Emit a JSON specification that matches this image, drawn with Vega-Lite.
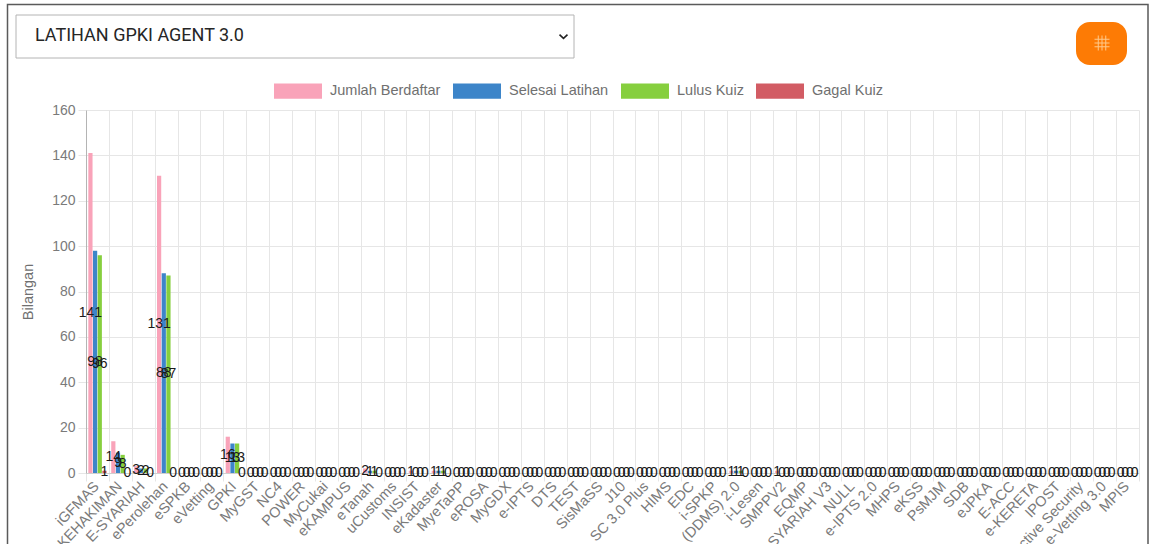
{
"$schema":"https://vega.github.io/schema/vega-lite/v6.json",
"width":1053,"height":363,
"autosize":"none",
"padding":{"left":86,"top":110,"right":21,"bottom":71},
"background":"#ffffff",
"config":{"view":{"stroke":null},"font":"Liberation Sans"},
"datasets":{"latihan":[
{"sistem":"iGFMAS","siri":"Jumlah Berdaftar","n":141},{"sistem":"iGFMAS","siri":"Selesai Latihan","n":98},{"sistem":"iGFMAS","siri":"Lulus Kuiz","n":96},{"sistem":"iGFMAS","siri":"Gagal Kuiz","n":1},
{"sistem":"e-KEHAKIMAN","siri":"Jumlah Berdaftar","n":14},{"sistem":"e-KEHAKIMAN","siri":"Selesai Latihan","n":9},{"sistem":"e-KEHAKIMAN","siri":"Lulus Kuiz","n":8},{"sistem":"e-KEHAKIMAN","siri":"Gagal Kuiz","n":0},
{"sistem":"E-SYARIAH","siri":"Jumlah Berdaftar","n":3},{"sistem":"E-SYARIAH","siri":"Selesai Latihan","n":2},{"sistem":"E-SYARIAH","siri":"Lulus Kuiz","n":2},{"sistem":"E-SYARIAH","siri":"Gagal Kuiz","n":0},
{"sistem":"ePerolehan","siri":"Jumlah Berdaftar","n":131},{"sistem":"ePerolehan","siri":"Selesai Latihan","n":88},{"sistem":"ePerolehan","siri":"Lulus Kuiz","n":87},{"sistem":"ePerolehan","siri":"Gagal Kuiz","n":0},
{"sistem":"eSPKB","siri":"Jumlah Berdaftar","n":0},{"sistem":"eSPKB","siri":"Selesai Latihan","n":0},{"sistem":"eSPKB","siri":"Lulus Kuiz","n":0},{"sistem":"eSPKB","siri":"Gagal Kuiz","n":0},
{"sistem":"eVetting","siri":"Jumlah Berdaftar","n":0},{"sistem":"eVetting","siri":"Selesai Latihan","n":0},{"sistem":"eVetting","siri":"Lulus Kuiz","n":0},{"sistem":"eVetting","siri":"Gagal Kuiz","n":0},
{"sistem":"GPKI","siri":"Jumlah Berdaftar","n":16},{"sistem":"GPKI","siri":"Selesai Latihan","n":13},{"sistem":"GPKI","siri":"Lulus Kuiz","n":13},{"sistem":"GPKI","siri":"Gagal Kuiz","n":0},
{"sistem":"MyGST","siri":"Jumlah Berdaftar","n":0},{"sistem":"MyGST","siri":"Selesai Latihan","n":0},{"sistem":"MyGST","siri":"Lulus Kuiz","n":0},{"sistem":"MyGST","siri":"Gagal Kuiz","n":0},
{"sistem":"NC4","siri":"Jumlah Berdaftar","n":0},{"sistem":"NC4","siri":"Selesai Latihan","n":0},{"sistem":"NC4","siri":"Lulus Kuiz","n":0},{"sistem":"NC4","siri":"Gagal Kuiz","n":0},
{"sistem":"POWER","siri":"Jumlah Berdaftar","n":0},{"sistem":"POWER","siri":"Selesai Latihan","n":0},{"sistem":"POWER","siri":"Lulus Kuiz","n":0},{"sistem":"POWER","siri":"Gagal Kuiz","n":0},
{"sistem":"MyCukai","siri":"Jumlah Berdaftar","n":0},{"sistem":"MyCukai","siri":"Selesai Latihan","n":0},{"sistem":"MyCukai","siri":"Lulus Kuiz","n":0},{"sistem":"MyCukai","siri":"Gagal Kuiz","n":0},
{"sistem":"eKAMPUS","siri":"Jumlah Berdaftar","n":0},{"sistem":"eKAMPUS","siri":"Selesai Latihan","n":0},{"sistem":"eKAMPUS","siri":"Lulus Kuiz","n":0},{"sistem":"eKAMPUS","siri":"Gagal Kuiz","n":0},
{"sistem":"eTanah","siri":"Jumlah Berdaftar","n":2},{"sistem":"eTanah","siri":"Selesai Latihan","n":1},{"sistem":"eTanah","siri":"Lulus Kuiz","n":1},{"sistem":"eTanah","siri":"Gagal Kuiz","n":0},
{"sistem":"uCustoms","siri":"Jumlah Berdaftar","n":0},{"sistem":"uCustoms","siri":"Selesai Latihan","n":0},{"sistem":"uCustoms","siri":"Lulus Kuiz","n":0},{"sistem":"uCustoms","siri":"Gagal Kuiz","n":0},
{"sistem":"INSIST","siri":"Jumlah Berdaftar","n":1},{"sistem":"INSIST","siri":"Selesai Latihan","n":0},{"sistem":"INSIST","siri":"Lulus Kuiz","n":0},{"sistem":"INSIST","siri":"Gagal Kuiz","n":0},
{"sistem":"eKadaster","siri":"Jumlah Berdaftar","n":1},{"sistem":"eKadaster","siri":"Selesai Latihan","n":1},{"sistem":"eKadaster","siri":"Lulus Kuiz","n":1},{"sistem":"eKadaster","siri":"Gagal Kuiz","n":0},
{"sistem":"MyeTaPP","siri":"Jumlah Berdaftar","n":0},{"sistem":"MyeTaPP","siri":"Selesai Latihan","n":0},{"sistem":"MyeTaPP","siri":"Lulus Kuiz","n":0},{"sistem":"MyeTaPP","siri":"Gagal Kuiz","n":0},
{"sistem":"eROSA","siri":"Jumlah Berdaftar","n":0},{"sistem":"eROSA","siri":"Selesai Latihan","n":0},{"sistem":"eROSA","siri":"Lulus Kuiz","n":0},{"sistem":"eROSA","siri":"Gagal Kuiz","n":0},
{"sistem":"MyGDX","siri":"Jumlah Berdaftar","n":0},{"sistem":"MyGDX","siri":"Selesai Latihan","n":0},{"sistem":"MyGDX","siri":"Lulus Kuiz","n":0},{"sistem":"MyGDX","siri":"Gagal Kuiz","n":0},
{"sistem":"e-IPTS","siri":"Jumlah Berdaftar","n":0},{"sistem":"e-IPTS","siri":"Selesai Latihan","n":0},{"sistem":"e-IPTS","siri":"Lulus Kuiz","n":0},{"sistem":"e-IPTS","siri":"Gagal Kuiz","n":0},
{"sistem":"DTS","siri":"Jumlah Berdaftar","n":0},{"sistem":"DTS","siri":"Selesai Latihan","n":0},{"sistem":"DTS","siri":"Lulus Kuiz","n":0},{"sistem":"DTS","siri":"Gagal Kuiz","n":0},
{"sistem":"TEST","siri":"Jumlah Berdaftar","n":0},{"sistem":"TEST","siri":"Selesai Latihan","n":0},{"sistem":"TEST","siri":"Lulus Kuiz","n":0},{"sistem":"TEST","siri":"Gagal Kuiz","n":0},
{"sistem":"SisMaSS","siri":"Jumlah Berdaftar","n":0},{"sistem":"SisMaSS","siri":"Selesai Latihan","n":0},{"sistem":"SisMaSS","siri":"Lulus Kuiz","n":0},{"sistem":"SisMaSS","siri":"Gagal Kuiz","n":0},
{"sistem":"J10","siri":"Jumlah Berdaftar","n":0},{"sistem":"J10","siri":"Selesai Latihan","n":0},{"sistem":"J10","siri":"Lulus Kuiz","n":0},{"sistem":"J10","siri":"Gagal Kuiz","n":0},
{"sistem":"SC 3.0 Plus","siri":"Jumlah Berdaftar","n":0},{"sistem":"SC 3.0 Plus","siri":"Selesai Latihan","n":0},{"sistem":"SC 3.0 Plus","siri":"Lulus Kuiz","n":0},{"sistem":"SC 3.0 Plus","siri":"Gagal Kuiz","n":0},
{"sistem":"HIMS","siri":"Jumlah Berdaftar","n":0},{"sistem":"HIMS","siri":"Selesai Latihan","n":0},{"sistem":"HIMS","siri":"Lulus Kuiz","n":0},{"sistem":"HIMS","siri":"Gagal Kuiz","n":0},
{"sistem":"EDC","siri":"Jumlah Berdaftar","n":0},{"sistem":"EDC","siri":"Selesai Latihan","n":0},{"sistem":"EDC","siri":"Lulus Kuiz","n":0},{"sistem":"EDC","siri":"Gagal Kuiz","n":0},
{"sistem":"i-SPKP","siri":"Jumlah Berdaftar","n":0},{"sistem":"i-SPKP","siri":"Selesai Latihan","n":0},{"sistem":"i-SPKP","siri":"Lulus Kuiz","n":0},{"sistem":"i-SPKP","siri":"Gagal Kuiz","n":0},
{"sistem":"(DDMS) 2.0","siri":"Jumlah Berdaftar","n":1},{"sistem":"(DDMS) 2.0","siri":"Selesai Latihan","n":1},{"sistem":"(DDMS) 2.0","siri":"Lulus Kuiz","n":1},{"sistem":"(DDMS) 2.0","siri":"Gagal Kuiz","n":0},
{"sistem":"i-Lesen","siri":"Jumlah Berdaftar","n":0},{"sistem":"i-Lesen","siri":"Selesai Latihan","n":0},{"sistem":"i-Lesen","siri":"Lulus Kuiz","n":0},{"sistem":"i-Lesen","siri":"Gagal Kuiz","n":0},
{"sistem":"SMPPV2","siri":"Jumlah Berdaftar","n":1},{"sistem":"SMPPV2","siri":"Selesai Latihan","n":0},{"sistem":"SMPPV2","siri":"Lulus Kuiz","n":0},{"sistem":"SMPPV2","siri":"Gagal Kuiz","n":0},
{"sistem":"EQMP","siri":"Jumlah Berdaftar","n":0},{"sistem":"EQMP","siri":"Selesai Latihan","n":0},{"sistem":"EQMP","siri":"Lulus Kuiz","n":0},{"sistem":"EQMP","siri":"Gagal Kuiz","n":0},
{"sistem":"E-SYARIAH V3","siri":"Jumlah Berdaftar","n":0},{"sistem":"E-SYARIAH V3","siri":"Selesai Latihan","n":0},{"sistem":"E-SYARIAH V3","siri":"Lulus Kuiz","n":0},{"sistem":"E-SYARIAH V3","siri":"Gagal Kuiz","n":0},
{"sistem":"NULL","siri":"Jumlah Berdaftar","n":0},{"sistem":"NULL","siri":"Selesai Latihan","n":0},{"sistem":"NULL","siri":"Lulus Kuiz","n":0},{"sistem":"NULL","siri":"Gagal Kuiz","n":0},
{"sistem":"e-IPTS 2.0","siri":"Jumlah Berdaftar","n":0},{"sistem":"e-IPTS 2.0","siri":"Selesai Latihan","n":0},{"sistem":"e-IPTS 2.0","siri":"Lulus Kuiz","n":0},{"sistem":"e-IPTS 2.0","siri":"Gagal Kuiz","n":0},
{"sistem":"MHPS","siri":"Jumlah Berdaftar","n":0},{"sistem":"MHPS","siri":"Selesai Latihan","n":0},{"sistem":"MHPS","siri":"Lulus Kuiz","n":0},{"sistem":"MHPS","siri":"Gagal Kuiz","n":0},
{"sistem":"eKSS","siri":"Jumlah Berdaftar","n":0},{"sistem":"eKSS","siri":"Selesai Latihan","n":0},{"sistem":"eKSS","siri":"Lulus Kuiz","n":0},{"sistem":"eKSS","siri":"Gagal Kuiz","n":0},
{"sistem":"PsMJM","siri":"Jumlah Berdaftar","n":0},{"sistem":"PsMJM","siri":"Selesai Latihan","n":0},{"sistem":"PsMJM","siri":"Lulus Kuiz","n":0},{"sistem":"PsMJM","siri":"Gagal Kuiz","n":0},
{"sistem":"SDB","siri":"Jumlah Berdaftar","n":0},{"sistem":"SDB","siri":"Selesai Latihan","n":0},{"sistem":"SDB","siri":"Lulus Kuiz","n":0},{"sistem":"SDB","siri":"Gagal Kuiz","n":0},
{"sistem":"eJPKA","siri":"Jumlah Berdaftar","n":0},{"sistem":"eJPKA","siri":"Selesai Latihan","n":0},{"sistem":"eJPKA","siri":"Lulus Kuiz","n":0},{"sistem":"eJPKA","siri":"Gagal Kuiz","n":0},
{"sistem":"E-ACC","siri":"Jumlah Berdaftar","n":0},{"sistem":"E-ACC","siri":"Selesai Latihan","n":0},{"sistem":"E-ACC","siri":"Lulus Kuiz","n":0},{"sistem":"E-ACC","siri":"Gagal Kuiz","n":0},
{"sistem":"e-KERETA","siri":"Jumlah Berdaftar","n":0},{"sistem":"e-KERETA","siri":"Selesai Latihan","n":0},{"sistem":"e-KERETA","siri":"Lulus Kuiz","n":0},{"sistem":"e-KERETA","siri":"Gagal Kuiz","n":0},
{"sistem":"IPOST","siri":"Jumlah Berdaftar","n":0},{"sistem":"IPOST","siri":"Selesai Latihan","n":0},{"sistem":"IPOST","siri":"Lulus Kuiz","n":0},{"sistem":"IPOST","siri":"Gagal Kuiz","n":0},
{"sistem":"Active Security","siri":"Jumlah Berdaftar","n":0},{"sistem":"Active Security","siri":"Selesai Latihan","n":0},{"sistem":"Active Security","siri":"Lulus Kuiz","n":0},{"sistem":"Active Security","siri":"Gagal Kuiz","n":0},
{"sistem":"e-Vetting 3.0","siri":"Jumlah Berdaftar","n":0},{"sistem":"e-Vetting 3.0","siri":"Selesai Latihan","n":0},{"sistem":"e-Vetting 3.0","siri":"Lulus Kuiz","n":0},{"sistem":"e-Vetting 3.0","siri":"Gagal Kuiz","n":0},
{"sistem":"MPIS","siri":"Jumlah Berdaftar","n":0},{"sistem":"MPIS","siri":"Selesai Latihan","n":0},{"sistem":"MPIS","siri":"Lulus Kuiz","n":0},{"sistem":"MPIS","siri":"Gagal Kuiz","n":0}
]},
"resolve":{"scale":{"x":"independent","y":"independent"}},
"layer":[
{"data":{"values":[{"unsur":"bingkai"}]},
 "mark":{"type":"rect","fill":null,"stroke":"#5a5a5a","strokeWidth":1.5},
 "encoding":{
  "x":{"datum":7.5,"type":"quantitative","scale":{"domain":[0,1160],"range":[-86,1074],"nice":false,"zero":false},"axis":null},
  "x2":{"datum":1148},
  "y":{"datum":4.5,"type":"quantitative","scale":{"domain":[0,544],"range":[-110,434],"nice":false,"zero":false},"axis":null},
  "y2":{"datum":600}}},
{"data":{"values":[{"unsur":"pilihan"}]},
 "mark":{"type":"rect","fill":"#ffffff","stroke":"#b4b4b4","strokeWidth":1},
 "encoding":{
  "x":{"datum":16,"type":"quantitative","scale":{"domain":[0,1160],"range":[-86,1074],"nice":false,"zero":false},"axis":null},
  "x2":{"datum":574},
  "y":{"datum":15,"type":"quantitative","scale":{"domain":[0,544],"range":[-110,434],"nice":false,"zero":false},"axis":null},
  "y2":{"datum":58}}},
{"data":{"values":[{"teks":"LATIHAN GPKI AGENT 3.0"}]},
 "mark":{"type":"text","align":"left","baseline":"middle","fontSize":18,"color":"#262626","font":"Roboto"},
 "encoding":{
  "x":{"datum":35,"type":"quantitative","scale":{"domain":[0,1160],"range":[-86,1074],"nice":false,"zero":false},"axis":null},
  "y":{"datum":36,"type":"quantitative","scale":{"domain":[0,544],"range":[-110,434],"nice":false,"zero":false},"axis":null},
  "text":{"field":"teks"}}},
{"data":{"values":[{"unsur":"anak panah"}]},
 "mark":{"type":"point","shape":"M-1,-0.45L0,0.45L1,-0.45","filled":false,"stroke":"#222222","strokeWidth":1.6,"size":64,"opacity":1},
 "encoding":{
  "x":{"datum":563.5,"type":"quantitative","scale":{"domain":[0,1160],"range":[-86,1074],"nice":false,"zero":false},"axis":null},
  "y":{"datum":36.5,"type":"quantitative","scale":{"domain":[0,544],"range":[-110,434],"nice":false,"zero":false},"axis":null}}},
{"data":{"values":[{"unsur":"butang"}]},
 "mark":{"type":"rect","fill":"#fd7b05","cornerRadius":14},
 "encoding":{
  "x":{"datum":1076,"type":"quantitative","scale":{"domain":[0,1160],"range":[-86,1074],"nice":false,"zero":false},"axis":null},
  "x2":{"datum":1127},
  "y":{"datum":22,"type":"quantitative","scale":{"domain":[0,544],"range":[-110,434],"nice":false,"zero":false},"axis":null},
  "y2":{"datum":65}}},
{"data":{"values":[{"unsur":"ikon jadual"}]},
 "mark":{"type":"point","shape":"M-0.5,-1V1M0,-1V1M0.5,-1V1M-1,-0.5H1M-1,0H1M-1,0.5H1","filled":false,"stroke":"#ffc98a","strokeWidth":1,"size":225,"opacity":1},
 "encoding":{
  "x":{"datum":1102,"type":"quantitative","scale":{"domain":[0,1160],"range":[-86,1074],"nice":false,"zero":false},"axis":null},
  "y":{"datum":43,"type":"quantitative","scale":{"domain":[0,544],"range":[-110,434],"nice":false,"zero":false},"axis":null}}},
{"data":{"name":"latihan"},
 "mark":{"type":"bar"},
 "encoding":{
  "x":{"field":"sistem","type":"nominal","sort":null,
   "scale":{"paddingInner":0,"paddingOuter":0},
   "axis":{"title":null,"labelAngle":-46,"labelAlign":"right","labelBaseline":"middle","labelFontSize":14.5,"labelColor":"#7a7a7a","labelPadding":3,"labelOffset":-1,"labelLimit":300,"labelOverlap":false,"tickBand":"extent","grid":true,"gridColor":"#e6e6e6","ticks":true,"tickColor":"#e6e6e6","tickSize":8,"domainColor":"#d0d0d0"}},
  "xOffset":{"field":"siri","type":"nominal","sort":["Jumlah Berdaftar","Selesai Latihan","Lulus Kuiz","Gagal Kuiz"],"scale":{"paddingInner":0.1,"paddingOuter":0.5}},
  "y":{"field":"n","type":"quantitative","scale":{"domain":[0,160],"nice":false},
   "axis":{"title":"Bilangan","titleFontSize":14.5,"titleFontWeight":"normal","titleColor":"#707070","titlePadding":16,"values":[0,20,40,60,80,100,120,140,160],"labelFontSize":14,"labelColor":"#7a7a7a","labelPadding":3,"grid":true,"gridColor":"#e6e6e6","tickColor":"#e6e6e6","tickSize":8,"domainColor":"#b4b4b4"}},
  "color":{"field":"siri","type":"nominal",
   "scale":{"domain":["Jumlah Berdaftar","Selesai Latihan","Lulus Kuiz","Gagal Kuiz"],"range":["#f9a3b9","#3d85c9","#86cf3e","#d25c64"]},
   "legend":{"title":null,"orient":"none","direction":"horizontal","columns":4,"legendX":188,"legendY":-43,"symbolType":"M-1,-0.32H1V0.32H-1Z","symbolSize":2304,"symbolStrokeWidth":0,"labelFontSize":14.5,"labelColor":"#707070","labelOffset":8,"columnPadding":12,"labelLimit":200}}}},
{"data":{"name":"latihan"},
 "mark":{"type":"text","fontSize":14,"color":"#1a1a1a","baseline":"middle","align":"center"},
 "encoding":{
  "x":{"field":"sistem","type":"nominal","sort":null,"scale":{"paddingInner":0,"paddingOuter":0},"axis":null},
  "xOffset":{"field":"siri","type":"nominal","sort":["Jumlah Berdaftar","Selesai Latihan","Lulus Kuiz","Gagal Kuiz"],"scale":{"paddingInner":0.1,"paddingOuter":0.5}},
  "y":{"field":"n","type":"quantitative","scale":{"domain":[0,320],"nice":false},"axis":null},
  "text":{"field":"n","type":"quantitative"}}}
]
}
